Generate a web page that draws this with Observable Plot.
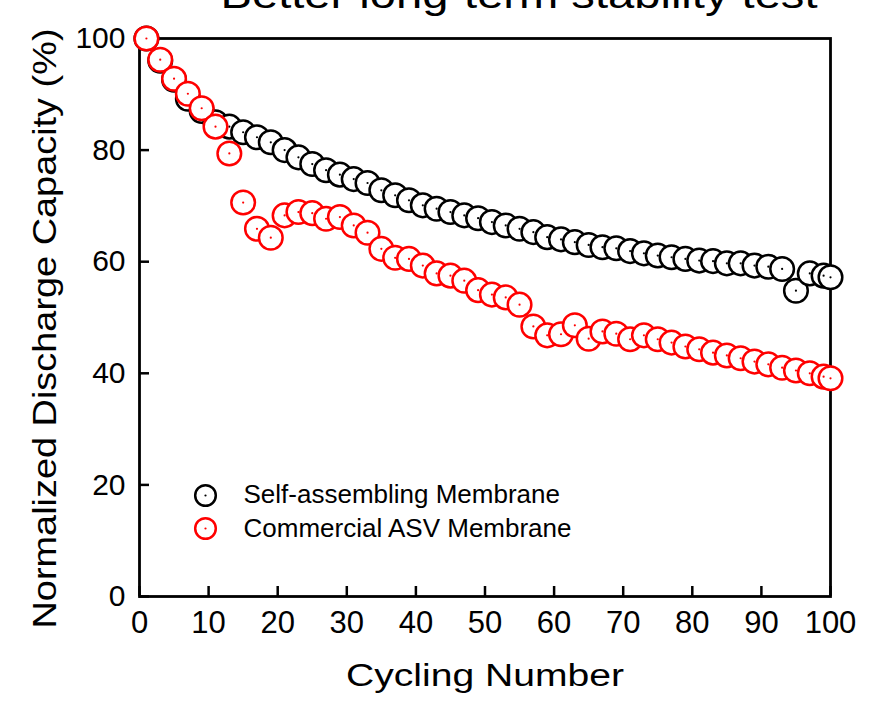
<!DOCTYPE html>
<html>
<head>
<meta charset="utf-8">
<script src="https://cdn.jsdelivr.net/npm/d3@7"></script>
<script src="https://cdn.jsdelivr.net/npm/@observablehq/plot@0.6"></script>
<style>
  html, body { margin: 0; padding: 0; background: white; }
</style>
</head>
<body>
<div id="chart"></div>
<script>
const titleText = "Better long-term stability test";
const xLabel = "Cycling Number";
const yLabel = "Normalized Discharge Capacity (%)";
const seriesNames = ["Self-assembling Membrane", "Commercial ASV Membrane"];
const seriesColors = ["black", "red"];

const cycles = [1,3,5,7,9,11,13,15,17,19,21,23,25,27,29,31,33,35,37,39,41,43,45,47,49,51,53,55,57,59,61,63,65,67,69,71,73,75,77,79,81,83,85,87,89,91,93,95,97,99,100];

const selfAssembling = [100,96.0,92.6,89.2,87.0,85.0,84.2,83.2,82.3,81.4,80.0,78.7,77.5,76.4,75.6,74.8,74.1,72.8,71.9,71.0,70.1,69.5,68.9,68.3,67.8,67.1,66.5,65.9,65.3,64.4,64.0,63.5,63.0,62.6,62.4,61.9,61.5,61.1,60.8,60.5,60.2,60.1,59.7,59.7,59.3,59.1,58.7,54.8,57.9,57.5,57.2];

const commercialASV = [100,96.2,92.8,90.1,87.5,84.2,79.4,70.6,65.9,64.3,68.3,68.9,68.7,67.7,68.0,66.5,65.2,62.3,60.7,60.5,59.3,57.9,57.5,56.6,54.9,54.1,53.6,52.3,48.4,46.8,47.0,48.6,46.2,47.5,47.1,46.1,46.8,46.1,45.5,44.8,44.3,43.7,43.2,42.7,42.1,41.6,41.0,40.5,40.0,39.4,39.1];

const xTicks = [0,10,20,30,40,50,60,70,80,90,100];
const yTicks = [0,20,40,60,80,100];

const blackData = cycles.map((c, i) => ({cycle: c, value: selfAssembling[i]}));
const redData = cycles.map((c, i) => ({cycle: c, value: commercialASV[i]}));

const circleStyle = {r: 11.8, strokeWidth: 2.5, fill: "white"};

const chart = Plot.plot({
  width: 873,
  height: 701,
  marginLeft: 139,
  marginRight: 43,
  marginTop: 38,
  marginBottom: 105,
  x: {domain: [0, 100]},
  y: {domain: [0, 100]},
  style: {fontFamily: "'Liberation Sans', Arial, sans-serif", background: "white", color: "black"},
  marks: [
    Plot.frame({stroke: "black", strokeWidth: 2.8}),
    Plot.axisX(xTicks, {tickSize: -10, tickPadding: 24, strokeWidth: 2.5, fontSize: 31, label: null}),
    Plot.axisY(yTicks, {tickSize: -10, tickPadding: 24, strokeWidth: 2.5, fontSize: 30, label: null}),
    Plot.dot(blackData, {x: "cycle", y: "value", stroke: seriesColors[0], ...circleStyle}),
    Plot.dot(blackData, {x: "cycle", y: "value", fill: seriesColors[0], r: 1.1, stroke: null}),
    Plot.dot(redData, {x: "cycle", y: "value", stroke: seriesColors[1], ...circleStyle}),
    Plot.dot(redData, {x: "cycle", y: "value", fill: seriesColors[1], r: 1.1, stroke: null}),
    // legend
    Plot.dot([seriesNames[0]], {frameAnchor: "bottom-left", dx: 66, dy: -101, r: 10.3, stroke: seriesColors[0], strokeWidth: 2.5, fill: "white"}),
    Plot.dot([seriesNames[0]], {frameAnchor: "bottom-left", dx: 66, dy: -101, r: 1.1, fill: seriesColors[0]}),
    Plot.text([seriesNames[0]], {frameAnchor: "bottom-left", dx: 104, dy: -102, text: d => d, textAnchor: "start", lineAnchor: "middle", fontSize: 26, fill: "black"}),
    Plot.dot([seriesNames[1]], {frameAnchor: "bottom-left", dx: 66, dy: -68, r: 10.3, stroke: seriesColors[1], strokeWidth: 2.5, fill: "white"}),
    Plot.dot([seriesNames[1]], {frameAnchor: "bottom-left", dx: 66, dy: -68, r: 1.1, fill: seriesColors[1]}),
    Plot.text([seriesNames[1]], {frameAnchor: "bottom-left", dx: 104, dy: -68, text: d => d, textAnchor: "start", lineAnchor: "middle", fontSize: 26, fill: "black"}),
    // titles
    Plot.text([titleText], {frameAnchor: "top", dx: 34, dy: -43, text: d => d, textAnchor: "middle", lineAnchor: "middle", fontSize: 38, fill: "black"}),
    Plot.text([xLabel], {frameAnchor: "bottom", dx: 0, dy: 80, text: d => d, textAnchor: "middle", lineAnchor: "middle", fontSize: 31, fill: "black"}),
    Plot.text([yLabel], {frameAnchor: "left", dx: -94.5, dy: 11, rotate: -90, text: d => d, textAnchor: "middle", lineAnchor: "middle", fontSize: 33, fill: "black"})
  ]
});

const stretch = {};
stretch[titleText] = 597;
stretch[xLabel] = 278;
stretch[yLabel] = 600;
d3.select(chart).selectAll("text").each(function() {
  const t = this.textContent;
  if (stretch[t]) {
    d3.select(this).attr("textLength", stretch[t]).attr("lengthAdjust", "spacingAndGlyphs");
  }
});

document.getElementById("chart").appendChild(chart);
</script>
</body>
</html>
